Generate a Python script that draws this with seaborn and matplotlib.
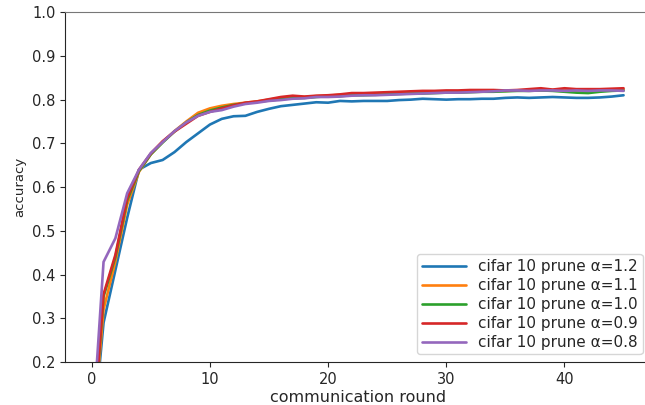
import pandas as pd
import matplotlib
matplotlib.use("Agg")
import matplotlib.pyplot as plt
import seaborn as sns

# communication rounds 0..45
rounds = list(range(46))

acc_12 = [0.0, 0.29, 0.41, 0.53, 0.64, 0.655, 0.662, 0.68, 0.703, 0.723, 0.743, 0.756,
          0.762, 0.763, 0.772, 0.779, 0.785, 0.788, 0.791, 0.794, 0.793, 0.797, 0.796,
          0.797, 0.797, 0.797, 0.799, 0.800, 0.802, 0.801, 0.800, 0.801, 0.801, 0.802,
          0.802, 0.804, 0.805, 0.804, 0.805, 0.806, 0.805, 0.804, 0.804, 0.805, 0.807, 0.810]
acc_11 = [0.0, 0.32, 0.43, 0.56, 0.635, 0.675, 0.703, 0.728, 0.75, 0.77, 0.78, 0.786,
          0.79, 0.793, 0.796, 0.80, 0.804, 0.806, 0.806, 0.808, 0.809, 0.811, 0.813,
          0.813, 0.814, 0.815, 0.816, 0.817, 0.817, 0.818, 0.818, 0.819, 0.819, 0.82,
          0.82, 0.82, 0.821, 0.821, 0.821, 0.822, 0.821, 0.821, 0.822, 0.822, 0.822, 0.823]
acc_10 = [0.0, 0.35, 0.44, 0.57, 0.637, 0.675, 0.702, 0.727, 0.748, 0.765, 0.775, 0.782,
          0.788, 0.792, 0.795, 0.798, 0.801, 0.803, 0.804, 0.806, 0.808, 0.808, 0.81,
          0.81, 0.811, 0.812, 0.813, 0.814, 0.814, 0.815, 0.816, 0.816, 0.817, 0.818,
          0.818, 0.819, 0.82, 0.82, 0.821, 0.82, 0.818, 0.816, 0.815, 0.818, 0.82, 0.821]
acc_09 = [0.0, 0.355, 0.445, 0.575, 0.64, 0.677, 0.705, 0.727, 0.745, 0.763, 0.772, 0.78,
          0.787, 0.793, 0.796, 0.801, 0.806, 0.809, 0.807, 0.809, 0.81, 0.812, 0.815,
          0.815, 0.816, 0.817, 0.818, 0.819, 0.82, 0.82, 0.821, 0.821, 0.822, 0.822,
          0.822, 0.821, 0.822, 0.824, 0.826, 0.823, 0.826, 0.824, 0.824, 0.824, 0.825, 0.826]
acc_08 = [0.02, 0.429, 0.483, 0.586, 0.64, 0.678, 0.703, 0.728, 0.748, 0.763, 0.772, 0.776,
          0.784, 0.79, 0.793, 0.797, 0.799, 0.802, 0.803, 0.806, 0.806, 0.807, 0.809,
          0.81, 0.81, 0.811, 0.812, 0.813, 0.814, 0.815, 0.816, 0.816, 0.817, 0.818,
          0.819, 0.821, 0.821, 0.82, 0.821, 0.821, 0.82, 0.821, 0.82, 0.821, 0.821, 0.82]

labels = ["cifar 10 prune α=1.2", "cifar 10 prune α=1.1", "cifar 10 prune α=1.0",
          "cifar 10 prune α=0.9", "cifar 10 prune α=0.8"]
series = [acc_12, acc_11, acc_10, acc_09, acc_08]

frames = []
for lab, vals in zip(labels, series):
    frames.append(pd.DataFrame({"round": rounds, "accuracy": vals, "run": lab}))
df = pd.concat(frames, ignore_index=True)

sns.set_style("ticks")
plt.rcParams['font.family'] = ['DejaVu Sans']

fig = plt.figure(figsize=(6.45, 4.05), dpi=100)
ax = fig.add_axes([0.101, 0.106, 0.907, 0.864])

sns.lineplot(data=df, x="round", y="accuracy", hue="run", palette="tab10",
             linewidth=1.9, ax=ax)

ax.set_xlim(-2.25, 47.25)
ax.set_ylim(0.2, 1.0)
ax.set_xticks([0, 10, 20, 30, 40])
ax.set_yticks([0.2, 0.3, 0.4, 0.5, 0.6, 0.7, 0.8, 0.9, 1.0])
ax.tick_params(labelsize=10.5)
ax.set_xlabel("communication round", fontsize=11.5, labelpad=2)
ax.set_ylabel("accuracy", fontsize=9.5, labelpad=4)
ax.spines['top'].set_color('#777777')
ax.spines['right'].set_visible(False)

ax.legend(loc="lower right", fontsize=11, handlelength=2.9, labelspacing=0.26,
          borderpad=0.3, title=None)

fig.savefig("out.png", dpi=100)
